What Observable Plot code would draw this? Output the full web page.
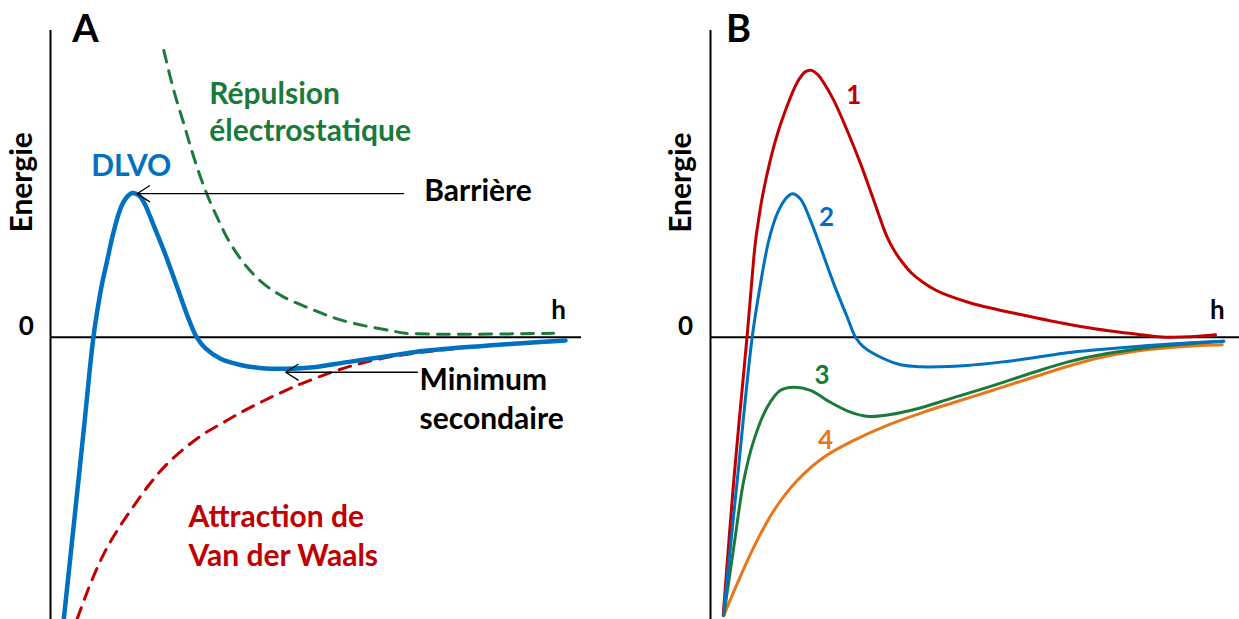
<!DOCTYPE html>
<html><head><meta charset="utf-8">
<script src="https://cdn.jsdelivr.net/npm/d3@7"></script>
<script src="https://cdn.jsdelivr.net/npm/@observablehq/plot@0.6"></script>
<style>
html,body{margin:0;padding:0;background:#fff;}
#wrap{display:flex;width:1239px;height:619px;overflow:hidden;}
#wrap svg{display:block;}
</style></head><body><div id="wrap"></div>
<script>
// ---------- Panel A data: [h, energy] ----------
const dlvo = [[2.5,-92.0],[3.77,-71.2],[5.08,-49.7],[6.40,-27.9],[7.34,-11.5],[8.10,0.26],[8.95,10.04],[9.79,18.19],[10.68,25.0],[11.58,32.2],[12.56,38.7],[13.37,42.8],[14.12,45.1],[14.78,46.4],[15.39,47.0],[16.10,46.8],[16.95,45.7],[17.89,42.96],[18.83,39.1],[20.06,33.8],[21.34,28.3],[23.86,16.3],[25.99,6.1],[27.50,0.1],[29.19,-3.65],[32.02,-7.0],[35.78,-9.03],[40.49,-10.17],[44.26,-10.27],[49.59,-9.75],[55.88,-8.1],[62.15,-6.5],[68.42,-4.86],[74.71,-3.75],[80.98,-2.9],[87.25,-2.1],[96.99,-1.04]];
const repulsion = [[21.34,93.5],[23.22,80.4],[25.10,69.6],[26.99,58.7],[29.19,47.8],[31.39,39.1],[33.90,30.5],[37.04,22.8],[40.17,17.4],[43.94,13.1],[48.96,9.3],[53.99,6.0],[59.0,3.8],[64.03,2.2],[66.85,1.3],[94.73,1.3]];
const attraction = [[5.03,-91.8],[7.53,-80.3],[10.04,-70.6],[12.56,-63.0],[15.07,-56.5],[18.21,-48.9],[21.34,-42.4],[25.11,-36.4],[28.87,-31.5],[32.64,-27.7],[36.40,-24.0],[40.17,-20.7],[43.94,-17.6],[48.0,-14.6],[55.88,-9.75],[62.15,-7.0],[68.42,-5.18],[74.71,-3.98],[80.98,-2.9],[87.25,-2.1],[96.67,-1.04]];
const arrowsA = [
  {h1: 66.5, e1: 46.8, h2: 16.3, e2: 46.8},   // Barrière
  {h1: 69.1, e1: -11.4, h2: 44.3, e2: -11.4}  // Minimum secondaire
];

// ---------- Panel B data: [h, energy] ----------
const curve1 = [[2.4,-90.7],[4.4,-46.7],[6.9,0],[8.19,26.1],[8.6,32.5],[9.2,39.5],[9.77,45.5],[11.34,58.0],[12.85,67.4],[14.37,74.9],[15.69,80.6],[16.82,84.3],[17.96,86.6],[19.09,87.0],[20.23,85.7],[21.36,83.1],[23.31,77.2],[25.84,67.4],[28.36,56.6],[30.87,44.6],[33.40,32.63],[34.78,28.13],[36.29,24.38],[37.99,20.96],[40.08,18.02],[42.53,15.42],[45.37,13.30],[49.15,11.18],[52.93,9.55],[58.60,7.40],[64.27,5.35],[69.94,3.49],[75.61,2.02],[81.29,0.85],[86.01,0.03],[90.74,0.13],[95.46,0.81]];
const curve2 = [[2.51,-90.0],[5.05,-46.7],[7.88,0],[9.45,17.4],[11.02,31.6],[12.61,40.3],[14.18,45.1],[15.44,46.8],[17.01,45.1],[18.9,38.1],[20.79,29.4],[23.31,17.4],[25.84,6.6],[27.41,0],[28.98,-3.2],[32.76,-7.0],[35.92,-8.96],[39.7,-9.6],[43.48,-9.6],[48.53,-9.2],[54.82,-8.1],[61.12,-6.7],[67.43,-5.05],[73.72,-4.0],[80.02,-3.06],[86.33,-2.3],[92.63,-1.6],[97.03,-1.3]];
const curve3 = [[2.51,-90.7],[4.4,-68.4],[6.29,-46.7],[8.19,-33.6],[10.72,-22.8],[13.23,-17.3],[15.75,-16.3],[18.9,-17.3],[22.68,-21.2],[26.47,-24.4],[29.92,-25.8],[34.03,-25.2],[39.07,-23.3],[45.37,-20.0],[53.55,-15.7],[61.12,-11.4],[67.43,-8.1],[73.72,-5.7],[80.02,-4.0],[86.33,-2.7],[92.63,-1.8],[97.03,-1.3]];
const curve4 = [[2.51,-90.7],[5.05,-80.3],[8.19,-68.4],[11.97,-56.5],[16.39,-46.7],[21.42,-39.1],[27.09,-33.6],[33.4,-28.7],[40.32,-24.4],[46.64,-20.92],[52.93,-17.5],[59.55,-13.85],[67.43,-9.52],[73.72,-6.58],[80.02,-4.63],[86.33,-3.42],[92.63,-2.67],[96.73,-2.44]];

// ---------- Text labels ----------
const labelsA = [
  {text: "A", h: 6.59, e: 100.1},
  {text: "Energie", h: -5.33, e: 50.5},
  {text: "0", h: -4.58, e: 3.5},
  {text: "h", h: 95.67, e: 8.7},
  {text: "DLVO", h: 15.21, e: 55.7},
  {text: "Répulsion", h: 29.9, e: 79.1},
  {text: "électrostatique", h: 29.9, e: 67.1},
  {text: "Barrière", h: 70.4, e: 47.7},
  {text: "Minimum", h: 69.5, e: -13.95},
  {text: "secondaire", h: 69.5, e: -26.8},
  {text: "Attraction de", h: 26.0, e: -58.7},
  {text: "Van der Waals", h: 26.0, e: -71.3}
];
const labelsB = [
  {text: "B", h: 5.29, e: 100.1},
  {text: "Energie", h: -5.48, e: 50.4},
  {text: "0", h: -4.73, e: 3.5},
  {text: "h", h: 95.8, e: 8.7},
  {text: "1", h: 27.09, e: 78.8},
  {text: "2", h: 21.93, e: 39.1},
  {text: "3", h: 21.1, e: -12.5},
  {text: "4", h: 21.74, e: -33.6}
];

const FONT = "Lato, 'Open Sans', sans-serif";
const BLUE = "#0070C0", GREEN = "#1B7A3A", RED = "#C00000", ORANGE = "#E8761B";
const X = d => d[0], Y = d => d[1];
const lab = (arr, t) => arr.filter(d => d.text === t);

function txt(arr, t, o) {
  return Plot.text(lab(arr, t), Object.assign({x: "h", y: "e", text: "text", fontWeight: "bold", fill: "black", fontSize: 30}, o));
}

function panel(width, marginLeft, marginRight, marks) {
  return Plot.plot({
    width, height: 619, marginTop: 30, marginBottom: 0, marginLeft, marginRight,
    x: {domain: [0, 100], axis: null},
    y: {domain: [-92, 100], axis: null},
    style: {fontFamily: FONT, background: "white", overflow: "visible"},
    marks
  });
}

const plotA = panel(620, 50, 39, [
  Plot.ruleX([0], {stroke: "black", strokeWidth: 2}),
  Plot.ruleY([0], {stroke: "black", strokeWidth: 2}),
  Plot.line(repulsion, {x: X, y: Y, stroke: GREEN, strokeWidth: 3, strokeDasharray: "12,9", curve: "catmull-rom"}),
  Plot.line(attraction, {x: X, y: Y, stroke: RED, strokeWidth: 3, strokeDasharray: "12,9", curve: "catmull-rom", clip: true}),
  Plot.line(dlvo, {x: X, y: Y, stroke: BLUE, strokeWidth: 4.5, curve: "catmull-rom", clip: true}),
  Plot.arrow(arrowsA, {x1: "h1", y1: "e1", x2: "h2", y2: "e2", stroke: "black", strokeWidth: 1.3, headLength: 17, headAngle: 65}),
  txt(labelsA, "A", {fontSize: 38}),
  txt(labelsA, "Energie", {rotate: -90}),
  txt(labelsA, "0", {fontSize: 26}),
  txt(labelsA, "h", {fontSize: 26}),
  txt(labelsA, "DLVO", {fill: BLUE}),
  txt(labelsA, "Répulsion", {fill: GREEN, textAnchor: "start"}),
  txt(labelsA, "électrostatique", {fill: GREEN, textAnchor: "start"}),
  txt(labelsA, "Barrière", {textAnchor: "start"}),
  txt(labelsA, "Minimum", {textAnchor: "start"}),
  txt(labelsA, "secondaire", {textAnchor: "start"}),
  txt(labelsA, "Attraction de", {fill: RED, textAnchor: "start"}),
  txt(labelsA, "Van der Waals", {fill: RED, textAnchor: "start"})
]);

const plotB = panel(619, 90, 0, [
  Plot.ruleX([0], {stroke: "black", strokeWidth: 2}),
  Plot.ruleY([0], {stroke: "black", strokeWidth: 2}),
  Plot.line(curve1, {x: X, y: Y, stroke: RED, strokeWidth: 3, curve: "catmull-rom"}),
  Plot.line(curve4, {x: X, y: Y, stroke: ORANGE, strokeWidth: 3, curve: "catmull-rom"}),
  Plot.line(curve3, {x: X, y: Y, stroke: GREEN, strokeWidth: 3, curve: "catmull-rom"}),
  Plot.line(curve2, {x: X, y: Y, stroke: BLUE, strokeWidth: 3, curve: "catmull-rom"}),
  txt(labelsB, "B", {fontSize: 38}),
  txt(labelsB, "Energie", {rotate: -90}),
  txt(labelsB, "0", {fontSize: 26}),
  txt(labelsB, "h", {fontSize: 26}),
  txt(labelsB, "1", {fill: RED, fontSize: 26}),
  txt(labelsB, "2", {fill: BLUE, fontSize: 26}),
  txt(labelsB, "3", {fill: GREEN, fontSize: 26}),
  txt(labelsB, "4", {fill: ORANGE, fontSize: 26})
]);

const wrap = document.getElementById("wrap");
wrap.appendChild(plotA);
wrap.appendChild(plotB);
</script>
</body></html>
